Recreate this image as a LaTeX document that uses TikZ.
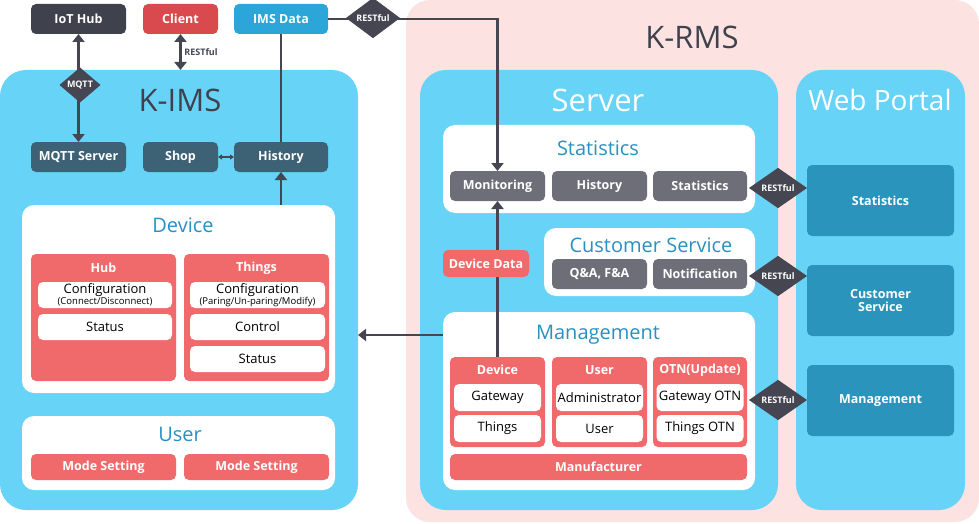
\documentclass[tikz,border=0pt]{standalone}
\usepackage{fontspec}
\setmainfont{Open Sans}
\usetikzlibrary{shapes.geometric,arrows.meta}
\definecolor{cPink}{HTML}{FDE2E2}
\definecolor{cSky}{HTML}{66D3F7}
\definecolor{cDark}{HTML}{3F414D}
\definecolor{cClient}{HTML}{D84A4E}
\definecolor{cIms}{HTML}{2CA5D8}
\definecolor{cSlate}{HTML}{3D6175}
\definecolor{cRed}{HTML}{F16A6B}
\definecolor{cGray}{HTML}{6D6E78}
\definecolor{cTitle}{HTML}{2A90C2}
\definecolor{cPortal}{HTML}{2A94BC}
\definecolor{cLine}{HTML}{454652}
\newcommand\fz[1]{\fontsize{#1}{#1}\selectfont}
\tikzset{
  every node/.style={inner sep=0pt,outer sep=0pt,align=center},
  panel/.style={fill=cSky,rounded corners=26pt},
  wpanel/.style={fill=white,rounded corners=12pt},
  sbox/.style={rounded corners=5pt,font=\bfseries\fz{12.5},text=white},
  dkbox/.style={sbox,fill=cDark},
  slbox/.style={sbox,fill=cSlate},
  gybox/.style={sbox,fill=cGray},
  rdbox/.style={rounded corners=5pt,fill=cRed},
  wtbox/.style={rounded corners=5pt,fill=white,font=\fz{13},text=black},
  rdlabel/.style={text=white,font=\bfseries\fz{12.5}},
  ptbox/.style={rounded corners=5pt,fill=cPortal,text=white,font=\bfseries\fz{12.5}},
  bigtitle/.style={font=\fz{31},text=cDark},
  subtitle/.style={font=\fz{20},text=cTitle},
  dia/.style={diamond,fill=cLine,text=white,font=\bfseries\fz{9}},
  conn/.style={draw=cLine,line width=2.6pt},
  arr/.style={conn,-{Triangle[width=12pt,length=8pt]}},
  darr/.style={conn,{Triangle[width=12pt,length=8pt]}-{Triangle[width=12pt,length=8pt]}},
}
\begin{document}
\begin{tikzpicture}[x=1pt,y=-1pt]
\useasboundingbox (0,0) rectangle (979,524);
% K-RMS background
\node[fill=cPink,rounded corners=24pt,minimum width=573pt,minimum height=522pt] (krms) at (692.5,261) {};
\node[bigtitle] (krmst) at (692,37) {K-RMS};
% K-IMS panel
\node[panel,minimum width=358pt,minimum height=440pt] (kims) at (179,290) {};
\node[bigtitle] (kimst) at (180,100) {K-IMS};
% Server & Web portal panels
\node[panel,minimum width=358pt,minimum height=440pt] (server) at (599,290) {};
\node[font=\fz{31},text=white] (servert) at (598,100) {Server};
\node[panel,minimum width=169pt,minimum height=440pt] (portal) at (880.5,290) {};
\node[font=\fz{28},text=white] (portalt) at (880,100) {Web Portal};

% Top nodes
\node[dkbox,minimum width=95pt,minimum height=30pt] (iot) at (78.5,19) {IoT Hub};
\node[sbox,fill=cClient,minimum width=75pt,minimum height=30pt] (client) at (180.5,19) {Client};
\node[sbox,fill=cIms,minimum width=94pt,minimum height=30pt] (imsdata) at (281,19) {IMS Data};

\node[slbox,minimum width=95pt,minimum height=30pt] (mqtt) at (78.5,157) {MQTT Server};
\node[slbox,minimum width=75pt,minimum height=30pt] (shop) at (180.5,157) {Shop};
\node[slbox,minimum width=94pt,minimum height=30pt] (khist) at (281,157) {History};

% Device panel
\node[wpanel,minimum width=313pt,minimum height=188pt] (devbox) at (178.5,299) {};
\node[subtitle] (devt) at (183,225) {Device};
\node[rdbox,minimum width=145pt,minimum height=127pt] (hub) at (103.5,317.5) {};
\node[rdlabel] (hubt) at (103.5,268) {Hub};
\node[rdbox,minimum width=145pt,minimum height=127pt] (things) at (256.5,317.5) {};
\node[rdlabel] (thingst) at (256.5,268) {Things};
\node[wtbox,minimum width=134pt,minimum height=26pt] (hubcfg) at (105,295) {Configuration\\[-2pt]{\fz{9.5}(Connect/Disconnect)}};
\node[wtbox,minimum width=134pt,minimum height=26pt] (hubst) at (105,327) {Status};
\node[wtbox,minimum width=135pt,minimum height=26pt] (thcfg) at (257.5,295) {Configuration\\[-2pt]{\fz{9.5}(Paring/Un-paring/Modify)}};
\node[wtbox,minimum width=135pt,minimum height=26pt] (thctl) at (257.5,327) {Control};
\node[wtbox,minimum width=135pt,minimum height=26pt] (thst) at (257.5,359) {Status};

% User panel
\node[wpanel,minimum width=313pt,minimum height=74pt] (userbox) at (178.5,453) {};
\node[subtitle] (usert) at (180,434) {User};
\node[rdbox,rdlabel,minimum width=145pt,minimum height=26pt] (mode1) at (103.5,467) {Mode Setting};
\node[rdbox,rdlabel,minimum width=145pt,minimum height=26pt] (mode2) at (256.5,467) {Mode Setting};

% Server: Statistics
\node[wpanel,minimum width=312pt,minimum height=88pt] (statbox) at (599,169) {};
\node[subtitle] (statt) at (598,148) {Statistics};
\node[gybox,minimum width=95pt,minimum height=30pt] (monit) at (497.5,186) {Monitoring};
\node[gybox,minimum width=95pt,minimum height=30pt] (shist) at (599.5,186) {History};
\node[gybox,minimum width=94pt,minimum height=30pt] (sstat) at (700,186) {Statistics};

% Customer service
\node[wpanel,minimum width=211pt,minimum height=68pt] (csbox) at (649.5,262) {};
\node[subtitle] (cst) at (651,245) {Customer Service};
\node[gybox,minimum width=95pt,minimum height=30pt] (qa) at (599.5,274) {Q\&A, F\&A};
\node[gybox,minimum width=94pt,minimum height=30pt] (notif) at (700,274) {Notification};

% Management
\node[wpanel,minimum width=312pt,minimum height=178pt] (mgmt) at (599,401) {};
\node[subtitle] (mgmtt) at (598,335) {Management};
\node[rdbox,minimum width=95pt,minimum height=90pt] (mdev) at (497.5,402) {};
\node[rdlabel] (mdevt) at (497.5,370) {Device};
\node[wtbox,minimum width=87pt,minimum height=27pt] (mgw) at (497.5,397.5) {Gateway};
\node[wtbox,minimum width=87pt,minimum height=27pt] (mth) at (497.5,428.5) {Things};
\node[rdbox,minimum width=95pt,minimum height=90pt] (muser) at (599.5,402) {};
\node[rdlabel] (musert) at (599.5,370) {User};
\node[wtbox,minimum width=87pt,minimum height=27pt] (madm) at (599.5,397.5) {Administrator};
\node[wtbox,minimum width=87pt,minimum height=27pt] (muu) at (599.5,428.5) {User};
\node[rdbox,minimum width=94pt,minimum height=90pt] (motn) at (700,402) {};
\node[rdlabel] (motnt) at (700,370) {OTN(Update)};
\node[wtbox,minimum width=87pt,minimum height=27pt] (mgotn) at (700,397.5) {Gateway OTN};
\node[wtbox,minimum width=87pt,minimum height=27pt] (mtotn) at (700,428.5) {Things OTN};
\node[rdbox,rdlabel,minimum width=297pt,minimum height=26pt] (manuf) at (598.5,467) {Manufacturer};

% Web portal boxes
\node[ptbox,minimum width=147pt,minimum height=71pt] (pstat) at (880.5,200.5) {Statistics};
\node[ptbox,minimum width=147pt,minimum height=71pt] (pcs) at (880.5,300.5) {Customer\\[1pt]Service};
\node[ptbox,minimum width=147pt,minimum height=71pt] (pmgmt) at (880.5,400.5) {Management};

% Connectors
\draw[darr] (iot.south) -- (mqtt.north);
\draw[darr] (client.south) -- (client.south |- kims.north);
\node[text=cLine,font=\bfseries\fz{9}] (clientlbl) at (201,52) {RESTful};
\draw[draw=cLine,line width=1.3pt,{Triangle[width=5pt,length=4pt]}-{Triangle[width=5pt,length=4pt]}] (shop.east) -- (khist.west);
\draw[conn] (imsdata.south) -- (khist.north);
\draw[arr] (khist.south |- devbox.north) -- (khist.south);
\draw[arr] (imsdata.east) -- (monit.north |- imsdata.east) -- (monit.north);
\draw[arr] (mdev.north) -- (monit.south);
\draw[arr] (mgmt.west |- mgmtt.center) -- (kims.east |- mgmtt.center);

% Overlays
\node[rdbox,rdlabel,minimum width=86pt,minimum height=27pt] (devdata) at (486,263.5) {Device Data};
\node[dia,minimum width=41pt,minimum height=35pt] (mqttd) at (80,85) {MQTT};
\node[dia,minimum width=54pt,minimum height=30pt] (restd) at (373,18) {RESTful};
\node[dia,minimum width=58pt,minimum height=32pt] (r1) at (778,188) {RESTful};
\node[dia,minimum width=58pt,minimum height=32pt] (r2) at (778,276) {RESTful};
\node[dia,minimum width=58pt,minimum height=32pt] (r3) at (778,400) {RESTful};
\end{tikzpicture}
\end{document}
